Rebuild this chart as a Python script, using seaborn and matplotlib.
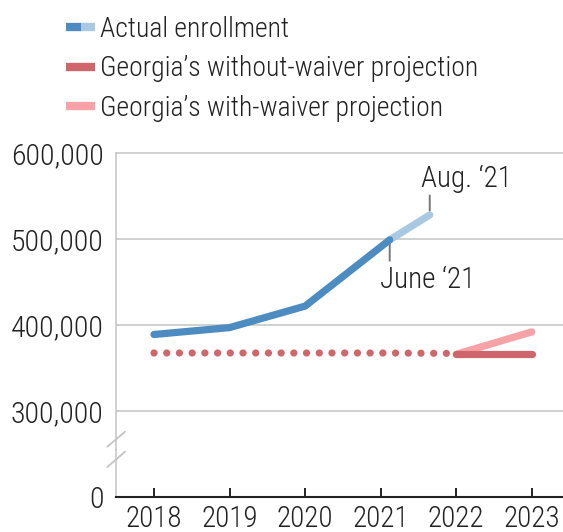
import matplotlib
matplotlib.use("Agg")
import matplotlib.pyplot as plt
from matplotlib.lines import Line2D
from matplotlib.legend_handler import HandlerTuple
import seaborn as sns
import pandas as pd

# ---- data ----
actual_x = [2018, 2019, 2020, 2021.12]
actual_y = [389000, 397000, 422000, 499000]
recent_x = [2021.12, 2021.65]
recent_y = [499000, 528000]
past_proj_x = [2018, 2019, 2020, 2021, 2022]
past_proj_y = [367500, 367500, 367500, 367500, 367000]
without_x = [2022, 2023]
without_y = [366000, 366000]
with_x = [2022, 2023]
with_y = [366000, 392000]
year_ticks = [2018, 2019, 2020, 2021, 2022, 2023]
y_ticks = [300000, 400000, 500000, 600000]
labels = ["Actual enrollment", "Georgia\u2019s without-waiver projection",
          "Georgia\u2019s with-waiver projection"]

BLUE = "#4d8cc0"
LBLUE = "#a9c9e3"
RED = "#cf666b"
PINK = "#f7a2a6"
GRID = "#c4c4c4"
FONT = ["Roboto Condensed", "Roboto", "DejaVu Sans"]

sns.set_theme(style="white")
plt.rcParams["font.family"] = FONT
plt.rcParams["font.weight"] = "light"
plt.rcParams["text.color"] = "#222222"

W, H = 563, 532
fig = plt.figure(figsize=(W / 100, H / 100), dpi=100)

def fx(px):
    return px / W

def fy(py):
    return 1 - py / H

ax = fig.add_axes([fx(116), fy(450), 1 - fx(116), fy(153) - fy(450)])
axb = fig.add_axes([fx(116), fy(497), 1 - fx(116), fy(450) - fy(497)])

lw = 5.2
df_a = pd.DataFrame({"x": actual_x, "y": actual_y})
df_r = pd.DataFrame({"x": recent_x, "y": recent_y})
df_p = pd.DataFrame({"x": past_proj_x, "y": past_proj_y})
df_wo = pd.DataFrame({"x": without_x, "y": without_y})
df_w = pd.DataFrame({"x": with_x, "y": with_y})

sns.lineplot(data=df_p, x="x", y="y", ax=ax, color=RED, lw=lw, zorder=3)
dotted = ax.lines[-1]
dotted.set_linestyle((0, (0.01, 1.75)))
dotted.set_dash_capstyle("round")
sns.lineplot(data=df_w, x="x", y="y", ax=ax, color=PINK, lw=lw, zorder=3,
             solid_capstyle="round")
sns.lineplot(data=df_wo, x="x", y="y", ax=ax, color=RED, lw=lw, zorder=4,
             solid_capstyle="round")
sns.lineplot(data=df_r, x="x", y="y", ax=ax, color=LBLUE, lw=lw, zorder=4,
             solid_capstyle="round")
sns.lineplot(data=df_a, x="x", y="y", ax=ax, color=BLUE, lw=lw, zorder=5,
             solid_capstyle="round")

xmin, xmax = 2017.497, 2023.414
ax.set_xlim(xmin, xmax)
ax.set_ylim(254700, 600000)
axb.set_xlim(xmin, xmax)
axb.set_ylim(0, 1)

FS = 21.5

# top axes styling
ax.set_yticks(y_ticks)
ax.set_yticklabels([f"{v:,}" for v in y_ticks])
ax.set_xticks([])
ax.set_xlabel("")
ax.set_ylabel("")
for t in y_ticks[:-1]:
    ax.axhline(t, color=GRID, lw=1.1, zorder=1)
for s in ["right", "bottom"]:
    ax.spines[s].set_visible(False)
ax.spines["top"].set_color(GRID)
ax.spines["top"].set_linewidth(1.1)
ax.spines["left"].set_color(GRID)
ax.spines["left"].set_linewidth(1.1)
ax.tick_params(axis="y", length=0, pad=9, labelsize=FS, labelcolor="#222222")
ax.patch.set_alpha(0)

# bottom axes styling
axb.set_yticks([0])
axb.set_yticklabels(["0"])
axb.set_xticks(year_ticks)
axb.set_xticklabels([str(y) for y in year_ticks])
for s in ["right", "top"]:
    axb.spines[s].set_visible(False)
axb.spines["left"].set_color(GRID)
axb.spines["left"].set_linewidth(1.1)
axb.spines["bottom"].set_color("#222222")
axb.spines["bottom"].set_linewidth(1.5)
axb.tick_params(axis="y", length=0, pad=9, labelsize=FS, labelcolor="#222222")
axb.tick_params(axis="x", direction="in", length=6.5, width=1.4, color="#222222",
                pad=6, labelsize=FS - 0.5, labelcolor="#222222", bottom=True)
axb.patch.set_alpha(0)

# axis break marks
for (x0, y0, x1, y1) in [(107.3, 446.7, 125, 431.7), (107.3, 467, 125, 451.7)]:
    fig.add_artist(Line2D([fx(x0), fx(x1)], [fy(y0), fy(y1)], transform=fig.transFigure,
                          color=GRID, lw=1.3))

# annotations
ann_kw = dict(color="#222222", fontsize=21)
ax.annotate("June \u201821", xy=(recent_x[0], recent_y[0]), xytext=(-7, -18.5),
            textcoords="offset points", ha="left", va="top", **ann_kw)
ax.annotate("", xy=(recent_x[0], recent_y[0]), xytext=(0, -15),
            textcoords="offset points",
            arrowprops=dict(arrowstyle="-", color="#777777", lw=1.4,
                            shrinkA=0, shrinkB=2))
ax.annotate("Aug. \u201821", xy=(recent_x[1], recent_y[1]), xytext=(-6, 16),
            textcoords="offset points", ha="left", va="bottom", **ann_kw)
ax.annotate("", xy=(recent_x[1], recent_y[1]), xytext=(0, 14),
            textcoords="offset points",
            arrowprops=dict(arrowstyle="-", color="#777777", lw=1.4,
                            shrinkA=0, shrinkB=3))

# legend
handles = [
    (Line2D([], [], color=BLUE, lw=6, solid_capstyle="butt"),
     Line2D([], [], color=LBLUE, lw=6, solid_capstyle="butt")),
    Line2D([], [], color=RED, lw=6, solid_capstyle="butt"),
    Line2D([], [], color=PINK, lw=6, solid_capstyle="butt"),
]
fig.legend(handles, labels, loc="upper left", bbox_to_anchor=(fx(66), fy(16)),
           frameon=False, fontsize=20, handlelength=1.05, handletextpad=0.16,
           labelspacing=0.45, borderpad=0, borderaxespad=0,
           handler_map={tuple: HandlerTuple(ndivide=None, pad=0)})

fig.savefig("out.png", dpi=100)
